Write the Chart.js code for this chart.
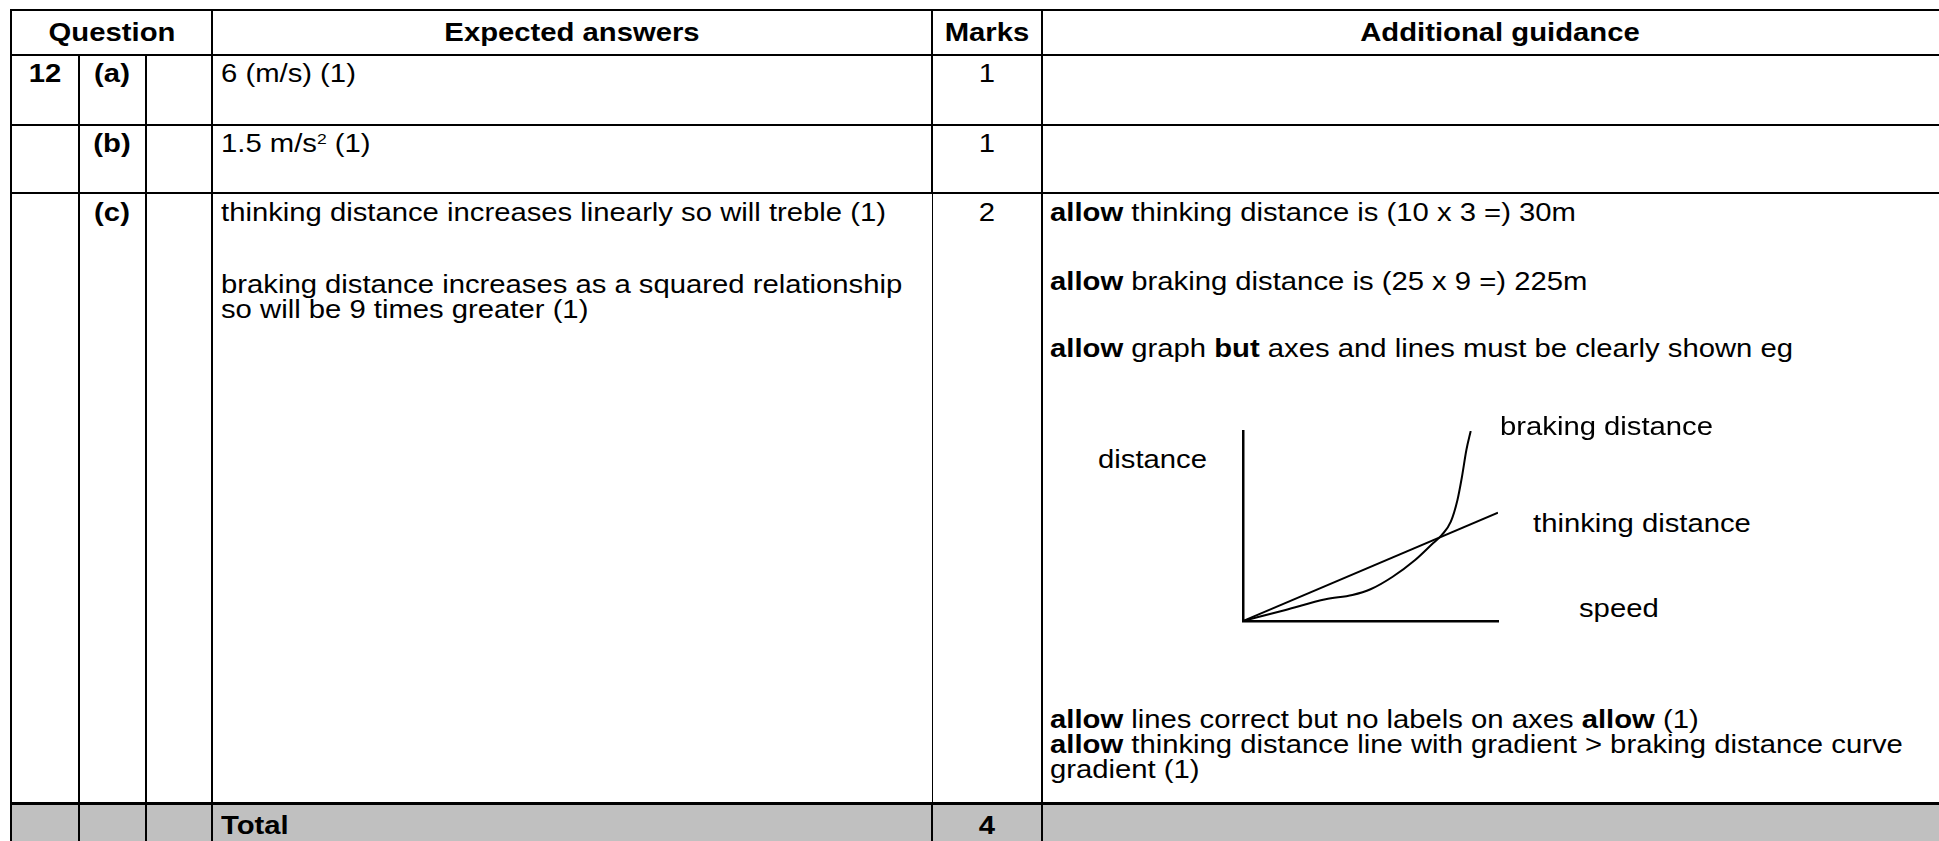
<!DOCTYPE html>
<html>
<head>
<meta charset="utf-8">
<title>Mark scheme 12</title>
<script src="https://cdn.jsdelivr.net/npm/chart.js@4.4.1/dist/chart.umd.min.js"></script>
<style>
  html, body { margin: 0; padding: 0; background: #fff; overflow: hidden; }
  #page { position: relative; width: 1939px; height: 841px; overflow: hidden; font-family: "Liberation Sans", Arial, sans-serif; color: #000; }
  .ln { position: absolute; background: #000; }
  .fill { position: absolute; background: #c0c0c0; }
  .t { position: absolute; white-space: nowrap; font-size: 25px; line-height: 20px; transform-origin: 0 0; }
  .t.c { transform-origin: 50% 50%; }
  .t.b { font-weight: bold; }
  .t sup { font-size: 0.6em; position: relative; top: -0.55em; vertical-align: baseline; }
  #chartBox { position: absolute; left: 1233px; top: 421px; width: 275px; height: 210px; }
</style>
</head>
<body>
<div id="page">
  <div id="chartBox"><canvas id="distanceChart"></canvas></div>
</div>
<script>
// sketch: speed (x) against distance (y), 0-100 on both axes
const brakingSpeed = [0, 16.7, 32.4, 42.9, 50.0, 58.7, 67.5, 74.5, 78.0, 81.5, 84.1, 85.8, 87.6, 89.3];
const brakingDistance = [0, 5.8, 11.4, 13.7, 16.7, 23.3, 32.1, 40.9, 45.3, 52.3, 63.7, 75.4, 90, 100];
const thinkingSpeed = [0, 100];
const thinkingDistance = [0, 57];
const axisLabels = ["distance", "speed"];
const seriesLabels = ["braking distance", "thinking distance"];

const page = document.getElementById("page");
const FS = 25;
const LH = 20;
const SX = 1.17;

function line(x, y, w, h) {
  const d = document.createElement("div");
  d.className = "ln";
  d.style.left = x + "px";
  d.style.top = y + "px";
  d.style.width = w + "px";
  d.style.height = h + "px";
  page.appendChild(d);
}
function hline(y, x1, x2, w) { line(x1 - 1, y - w / 2, x2 - x1 + 2, w); }
function vline(x, y1, y2, w) { line(x - w / 2, y1 - 1, w, y2 - y1 + 2); }

// text placed by its baseline; centred when align is "c"
function text(x, baseline, html, bold, align) {
  const s = document.createElement("div");
  s.className = "t" + (bold ? " b" : "") + (align === "c" ? " c" : "");
  s.innerHTML = html;
  s.style.left = x + "px";
  s.style.top = (baseline - LH / 2 - FS * 0.3465) + "px";
  s.style.transform = align === "c" ? "translateX(-50%) scaleX(" + SX + ")" : "scaleX(" + SX + ")";
  page.appendChild(s);
}

// grey total row
const g = document.createElement("div");
g.className = "fill";
g.style.left = "11px"; g.style.top = "803px"; g.style.width = "1950px"; g.style.height = "50px";
page.appendChild(g);

// table rules
hline(10, 11, 1945, 2);
hline(55, 11, 1945, 2);
hline(125, 11, 1945, 2);
hline(193, 11, 1945, 2);
hline(803, 11, 1945, 3);
vline(11, 10, 845, 2);
vline(79, 55, 845, 2);
vline(146, 55, 845, 2);
vline(212, 10, 845, 2);
vline(932, 10, 193, 2);
vline(932, 193, 803, 1);
vline(932, 803, 845, 2);
vline(1042, 10, 845, 2);

// header
text(112, 41, "Question", true, "c");
text(572, 41, "Expected answers", true, "c");
text(987, 41, "Marks", true, "c");
text(1500, 41, "Additional guidance", true, "c");

// (a)
text(45, 82, "12", true, "c");
text(112, 82, "(a)", true, "c");
text(221, 82, "6 (m/s) (1)");
text(987, 82, "1", false, "c");

// (b)
text(112, 152, "(b)", true, "c");
text(221, 152, "1.5 m/s<sup>2</sup> (1)");
text(987, 152, "1", false, "c");

// (c)
text(112, 221, "(c)", true, "c");
text(221, 221, "thinking distance increases linearly so will treble (1)");
text(221, 293, "braking distance increases as a squared relationship");
text(221, 318, "so will be 9 times greater (1)");
text(987, 221, "2", false, "c");

text(1050, 221, "<b>allow</b> thinking distance is (10 x 3 =) 30m");
text(1050, 290, "<b>allow</b> braking distance is (25 x 9 =) 225m");
text(1050, 357, "<b>allow</b> graph <b>but</b> axes and lines must be clearly shown eg");
text(1050, 728, "<b>allow</b> lines correct but no labels on axes <b>allow</b> (1)");
text(1050, 753, "<b>allow</b> thinking distance line with gradient &gt; braking distance curve");
text(1050, 778, "gradient (1)");

// total
text(221, 834, "Total", true);
text(987, 834, "4", true, "c");

// sketch labels
text(1098, 468, axisLabels[0]);
text(1579, 617, axisLabels[1]);
text(1500, 435, seriesLabels[0]);
text(1533, 532, seriesLabels[1]);

function points(xs, ys) {
  return xs.map(function (x, i) { return { x: x, y: ys[i] }; });
}

const ctx = document.getElementById("distanceChart").getContext("2d");
new Chart(ctx, {
  type: "scatter",
  data: {
    datasets: [
      {
        label: seriesLabels[0],
        data: points(brakingSpeed, brakingDistance),
        showLine: true,
        borderColor: "#000",
        borderWidth: 2,
        pointRadius: 0,
        cubicInterpolationMode: "monotone",
        fill: false,
      },
      {
        label: seriesLabels[1],
        data: points(thinkingSpeed, thinkingDistance),
        showLine: true,
        borderColor: "#000",
        borderWidth: 2,
        pointRadius: 0,
        fill: false,
      },
    ],
  },
  options: {
    responsive: true,
    maintainAspectRatio: false,
    animation: false,
    devicePixelRatio: 1,
    layout: { padding: 10 },
    plugins: {
      legend: { display: false },
      tooltip: { enabled: false },
    },
    scales: {
      x: {
        type: "linear",
        min: 0,
        max: 100,
        ticks: { display: false },
        grid: { display: false, drawTicks: false, tickLength: 0 },
        border: { display: true, color: "#000", width: 2.5 },
      },
      y: {
        type: "linear",
        min: 0,
        max: 100,
        ticks: { display: false },
        grid: { display: false, drawTicks: false, tickLength: 0 },
        border: { display: true, color: "#000", width: 2.5 },
      },
    },
  },
});
</script>
</body>
</html>
